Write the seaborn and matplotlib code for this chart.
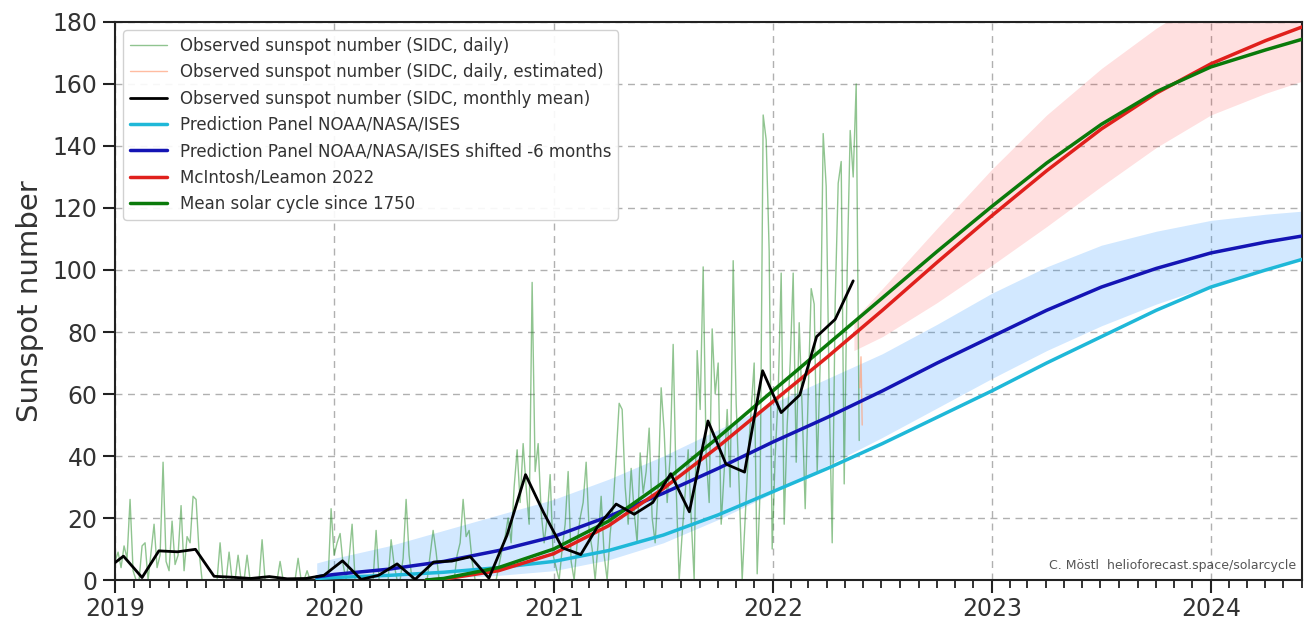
import numpy as np
import pandas as pd
import matplotlib
matplotlib.use("Agg")
import matplotlib.pyplot as plt
import matplotlib.dates as mdates
import seaborn as sns

# Daily sunspot number (SIDC), every 5 days from 2019-01-01
daily_start = "2019-01-01"
daily_ssn = [
    6, 9, 4, 11, 7, 26, 3, 0, 0, 11,
    12, 0, 9, 18, 4, 8, 38, 6, 3, 19,
    5, 8, 24, 3, 14, 12, 27, 26, 9, 0,
    0, 0, 0, 0, 0, 12, 0, 0, 9, 0,
    0, 8, 0, 0, 8, 0, 0, 0, 0, 13,
    0, 0, 0, 0, 0, 6, 0, 0, 0, 0,
    0, 7, 0, 0, 3, 0, 0, 0, 0, 0,
    0, 0, 23,
    # 2020
    8, 12, 15, 5, 0, 7, 18, 0, 0, 0,
    0, 0, 0, 0, 16, 0, 0, 0, 0, 13,
    5, 0, 0, 7, 26, 8, 0, 0, 0, 0,
    0, 0, 8, 16, 9, 0, 0, 0, 0, 0,
    0, 8, 12, 26, 14, 16, 6, 0, 0, 0,
    0, 0, 0, 0, 0, 5, 10, 14, 20, 12,
    30, 42, 25, 44, 30, 18, 96, 35, 44, 22,
    12, 20, 34, 8,
    # 2021
    4, 0, 10, 18, 35, 6, 0, 12, 20, 25,
    38, 16, 10, 0, 12, 27, 8, 0, 15, 24,
    40, 57, 55, 30, 18, 36, 22, 12, 41, 28,
    35, 49, 20, 12, 30, 62, 48, 25, 40, 76,
    30, 0, 15, 28, 42, 20, 0, 74, 55, 101,
    40, 25, 81, 60, 70, 18, 35, 55, 30, 103,
    57, 30, 0, 20, 40, 55, 70, 2, 30, 150,
    142, 106, 10,
    # 2022
    40, 60, 99, 18, 50, 70, 99, 38, 83, 55,
    23, 60, 94, 89, 35, 70, 144, 127, 60, 12,
    90, 128, 135, 31, 100, 145, 130, 160, 45,
]

# Estimated (provisional) daily values at the end of the record
est_dates = ["2022-05-26", "2022-05-28", "2022-05-30"]
est_ssn = [62, 72, 50]

# Monthly mean, Dec 2018 .. May 2022 (plotted mid-month)
monthly_start = "2018-12-01"
monthly_ssn = [
    3.1,
    7.7, 0.8, 9.4, 9.1, 9.9, 1.2, 0.9, 0.5, 1.1, 0.4, 0.5, 1.5,
    6.2, 0.2, 1.5, 5.2, 0.2, 5.8, 6.1, 7.5, 0.6, 14.4, 34.0, 21.8,
    10.4, 8.2, 17.2, 24.5, 21.2, 25.0, 34.3, 22.0, 51.3, 37.4, 34.8, 67.5,
    54.0, 59.7, 78.5, 84.1, 96.5,
]

# Prediction Panel NOAA/NASA/ISES and its -6 month shifted version
panel_years = [2019.92, 2020.0, 2020.25, 2020.5, 2020.75, 2021.0, 2021.25, 2021.5,
               2021.75, 2022.0, 2022.25, 2022.5, 2022.75, 2023.0, 2023.25, 2023.5,
               2023.75, 2024.0, 2024.25, 2024.42]
panel_ssn = [0.5, 0.8, 1.5, 2.5, 4, 6, 9.5, 14.5, 21, 28.5, 36, 44, 52.5, 61, 70,
             78.5, 87, 94.5, 100, 103.5]
shifted_ssn = [1, 1.8, 3.5, 6, 9.5, 14, 20.5, 28, 36, 44.5, 52.5, 61, 70, 78.5, 87,
               94.5, 100.5, 105.5, 109, 111]
shifted_lo = [0, 0, 0, 0.5, 1.5, 3, 6.5, 12, 19.5, 28, 37, 46, 55.5, 65, 74, 82, 89,
              95, 100, 103.5]
shifted_hi = [5.5, 7, 11, 16, 21, 26, 32.5, 40, 48.5, 57, 65, 73, 82.5, 92.5, 101,
              108, 112.5, 116, 118, 119]

# McIntosh/Leamon 2022 and the mean solar cycle since 1750
cycle_years = [2020.42, 2020.5, 2020.75, 2021.0, 2021.25, 2021.5, 2021.75, 2022.0,
               2022.25, 2022.5, 2022.75, 2023.0, 2023.25, 2023.5, 2023.75, 2024.0,
               2024.25, 2024.42]
mcintosh_ssn = [0, 0.3, 3, 8.5, 17.5, 29.5, 43, 57.5, 72, 87, 102.5, 117.5, 132,
                145.5, 157, 166.5, 174, 178.5]
mean_cycle_ssn = [0, 0.5, 4, 10, 19, 31.5, 46, 61, 76, 91, 106, 120.5, 134.5, 147,
                  157.5, 165.5, 171, 174.5]

band_years = [2022.37, 2022.5, 2022.75, 2023.0, 2023.25, 2023.5, 2023.75, 2024.0,
              2024.25, 2024.42]
mcintosh_lo = [74, 78.5, 89.5, 101.5, 114, 127, 139.5, 150, 157, 161]
mcintosh_hi = [84, 94, 113.5, 132.5, 150, 165, 178, 189, 197, 202]


def to_dates(years):
    out = []
    for y in years:
        yr = int(np.floor(y))
        out.append(pd.Timestamp(yr, 1, 1) + pd.Timedelta(days=(y - yr) * 365.25))
    return pd.DatetimeIndex(out)


daily_dates = pd.date_range(daily_start, periods=len(daily_ssn), freq="5D")
monthly_dates = pd.date_range(monthly_start, periods=len(monthly_ssn), freq="MS") + pd.Timedelta(days=14)
panel_dates = to_dates(panel_years)
cycle_dates = to_dates(cycle_years)
band_dates = to_dates(band_years)

sns.set_style("ticks")
plt.rcParams["font.family"] = ["DejaVu Sans"]

fig = plt.figure(figsize=(13.06, 6.21), dpi=100)
ax = fig.add_axes([0.0881, 0.066, 0.9089, 0.8986])

# uncertainty bands
ax.fill_between(panel_dates, shifted_lo, shifted_hi, color="dodgerblue", alpha=0.2,
                lw=0, zorder=1)
ax.fill_between(band_dates, mcintosh_lo, mcintosh_hi, color="red", alpha=0.12,
                lw=0, zorder=1)

sns.lineplot(x=daily_dates, y=daily_ssn, ax=ax, color="forestgreen", alpha=0.5, lw=1.0,
             label="Observed sunspot number (SIDC, daily)", zorder=2)
sns.lineplot(x=pd.to_datetime(est_dates), y=est_ssn, ax=ax, color="lightsalmon", alpha=0.7,
             lw=1.0, label="Observed sunspot number (SIDC, daily, estimated)", zorder=2)
sns.lineplot(x=monthly_dates, y=monthly_ssn, ax=ax, color="black", lw=2,
             label="Observed sunspot number (SIDC, monthly mean)", zorder=6)
sns.lineplot(x=panel_dates, y=panel_ssn, ax=ax, color="#1fb8d8", lw=2.5,
             label="Prediction Panel NOAA/NASA/ISES", zorder=3)
sns.lineplot(x=panel_dates, y=shifted_ssn, ax=ax, color="#1414b4", lw=2.5,
             label="Prediction Panel NOAA/NASA/ISES shifted -6 months", zorder=3)
sns.lineplot(x=cycle_dates, y=mcintosh_ssn, ax=ax, color="#e0201c", lw=2.5,
             label="McIntosh/Leamon 2022", zorder=4)
sns.lineplot(x=cycle_dates, y=mean_cycle_ssn, ax=ax, color="#0a7a0a", lw=2.5,
             label="Mean solar cycle since 1750", zorder=5)

ax.set_xlim(pd.Timestamp("2019-01-01"), pd.Timestamp("2024-06-01"))
ax.set_ylim(0, 180)
ax.set_yticks(np.arange(0, 181, 20))
ax.xaxis.set_major_locator(mdates.YearLocator())
ax.xaxis.set_major_formatter(mdates.DateFormatter("%Y"))
ax.xaxis.set_minor_locator(mdates.MonthLocator())

ax.grid(True, which="major", linestyle=(0, (5, 4)), color="#b0b0b0", lw=1)
ax.tick_params(axis="both", which="major", labelsize=17, length=9, width=1.5,
               direction="out", colors="#222222", labelcolor="#333333")
ax.tick_params(axis="x", which="minor", length=6, width=1.3, colors="#222222")
for s in ax.spines.values():
    s.set_linewidth(1.5)
    s.set_color("#222222")

ax.set_xlabel("")
ax.set_ylabel("Sunspot number", fontsize=21, color="#333333", labelpad=6)

leg = ax.legend(loc="upper left", fontsize=12, frameon=True, framealpha=0.9,
                edgecolor="#cccccc", handlelength=2.2, borderaxespad=0.5)
for t in leg.get_texts():
    t.set_color("#333333")

ax.text(0.995, 0.015, "C. Möstl  helioforecast.space/solarcycle", transform=ax.transAxes,
        ha="right", va="bottom", fontsize=9, color="#555555")

fig.savefig("out.png", dpi=100)
